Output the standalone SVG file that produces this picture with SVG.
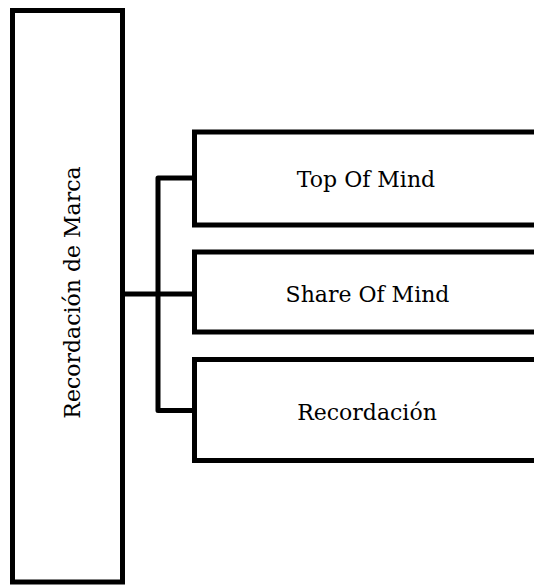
<svg xmlns="http://www.w3.org/2000/svg" width="534" height="585" viewBox="0 0 534 585">
<style>
.box{fill:#fff;stroke:#000;stroke-width:5}
.con{fill:none;stroke:#000;stroke-width:5;stroke-linejoin:round}
.t{font-family:"DejaVu Serif","Liberation Serif",serif;font-size:22px;fill:#000;text-anchor:middle}
</style>
<rect width="534" height="585" fill="#fff"/>
<g id="connectors">
<path class="con" d="M122.5 294 H194.5"/>
<path class="con" d="M194.5 178 H158 V410.5 H194.5"/>
</g>
<g id="root">
<rect class="box" x="12.5" y="10.5" width="110" height="571.5"/>
<text class="t" transform="translate(80,292.5) rotate(-90)">Recordación de Marca</text>
</g>
<g id="top">
<rect class="box" x="194.5" y="132" width="360" height="93"/>
<text class="t" x="366" y="187">Top Of Mind</text>
</g>
<g id="share">
<rect class="box" x="194.5" y="252" width="360" height="80"/>
<text class="t" x="367.5" y="302">Share Of Mind</text>
</g>
<g id="recordacion">
<rect class="box" x="194.5" y="359.5" width="360" height="101"/>
<text class="t" x="367" y="420">Recordación</text>
</g>
</svg>
